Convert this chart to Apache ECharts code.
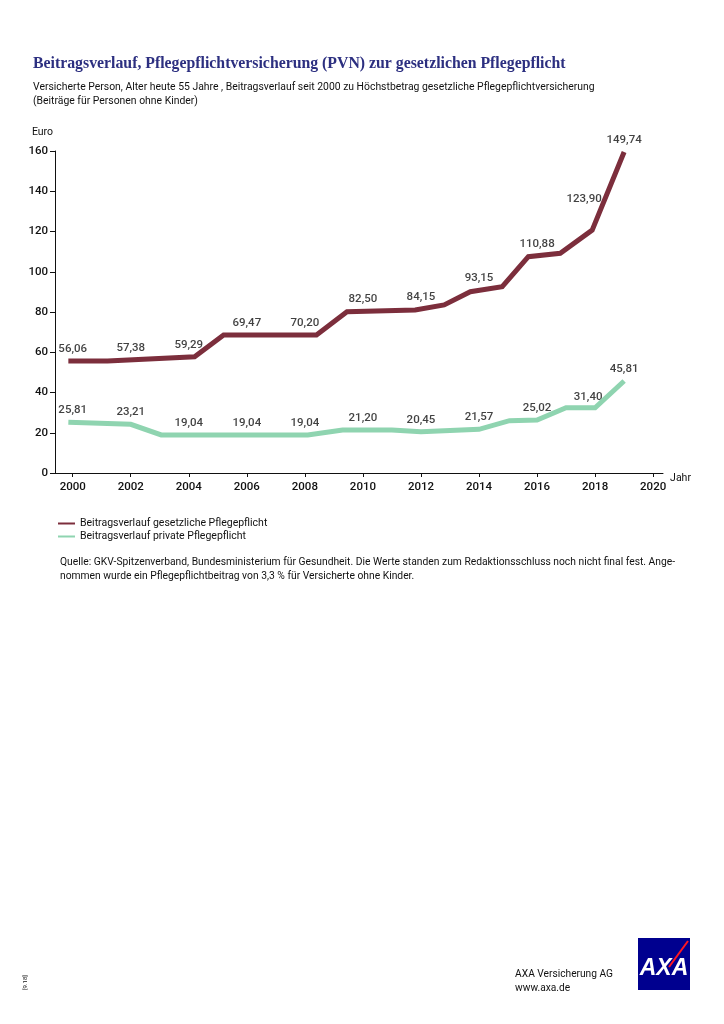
<!DOCTYPE html>
<html>
<head>
<meta charset="utf-8">
<script src="https://cdn.jsdelivr.net/npm/echarts@6/dist/echarts.min.js"></script>
<style>
html,body{margin:0;padding:0;background:#fff;}
#chart{width:724px;height:1024px;}
</style>
</head>
<body>
<div id="chart"></div>
<script>
// ---- data ----
const redName = 'Beitragsverlauf gesetzliche Pflegepflicht';
const greenName = 'Beitragsverlauf private Pflegepflicht';

const redYears  = [1999.85, 2001.2, 2004.2, 2005.2, 2008.4, 2009.45, 2011.8, 2012.8, 2013.7, 2014.8, 2015.7, 2016.8, 2017.9, 2019.0];
const redValues = [55.7, 55.7, 57.8, 68.6, 68.6, 80.1, 81.0, 83.5, 90.1, 92.6, 107.5, 109.2, 120.7, 159.5];

const greenYears  = [1999.85, 2002.0, 2003.05, 2008.1, 2009.3, 2011.0, 2012.0, 2014.0, 2015.05, 2016.0, 2017.0, 2018.0, 2019.0];
const greenValues = [25.2, 24.2, 18.9, 18.9, 21.4, 21.4, 20.5, 21.7, 26.0, 26.3, 32.4, 32.4, 45.7];

const redLabelYears  = [2000, 2002, 2004, 2006, 2008, 2010, 2012, 2014, 2016, 2018, 2019];
const redLabelTexts  = ['56,06','57,38','59,29','69,47','70,20','82,50','84,15','93,15','110,88','123,90','149,74'];
const greenLabelYears = [2000, 2002, 2004, 2006, 2008, 2010, 2012, 2014, 2016, 2018, 2019];
const greenLabelTexts = ['25,81','23,21','19,04','19,04','19,04','21,20','20,45','21,57','25,02','31,40','45,81'];

const xTickYears = [2000, 2002, 2004, 2006, 2008, 2010, 2012, 2014, 2016, 2018, 2020];

const titleText = 'Beitragsverlauf, Pflegepflichtversicherung (PVN) zur gesetzlichen Pflegepflicht';
const subtitleText = 'Versicherte Person, Alter heute 55 Jahre , Beitragsverlauf seit 2000 zu Höchstbetrag gesetzliche Pflegepflichtversicherung\n(Beiträge für Personen ohne Kinder)';
const sourceText = 'Quelle: GKV-Spitzenverband, Bundesministerium für Gesundheit. Die Werte standen zum Redaktionsschluss noch nicht final fest. Ange-\nnommen wurde ein Pflegepflichtbeitrag von 3,3 % für Versicherte ohne Kinder.';

// ---- styling ----
const F = "Roboto, sans-serif";
const RED = '#7c2e3c';
const GREEN = '#8fd4b0';
const INK = '#111111';
const NAVY = '#2c2f80';

function interp(xs, ys, x) {
  if (x <= xs[0]) return ys[0];
  for (let i = 1; i < xs.length; i++) {
    if (x <= xs[i]) {
      const t = (x - xs[i-1]) / (xs[i] - xs[i-1]);
      return ys[i-1] + t * (ys[i] - ys[i-1]);
    }
  }
  return ys[ys.length - 1];
}

// per-label nudges (pixels) for labels the reference sets aside from the line
const redOffsets = {2018: [-11, -12]};
const greenOffsets = {2018: [-7, 1]};

function labelData(years, texts, lx, ly, offsets) {
  return years.map((y, i) => {
    const item = { value: [y, interp(lx, ly, y)], name: texts[i] };
    if (offsets[y]) item.label = { offset: offsets[y] };
    return item;
  });
}

const chart = echarts.init(document.getElementById('chart'), null, {renderer: 'canvas'});

const labelStyle = {
  show: true, position: 'top', distance: 6,
  formatter: p => p.name, fontFamily: F, fontSize: 11.5, fontWeight: 500, color: INK
};

const option = {
  animation: false,
  backgroundColor: '#fff',
  textStyle: { fontFamily: F },
  grid: { left: 55, right: 61, top: 151, bottom: 551 },
  legend: {
    data: [redName, greenName],
    orient: 'vertical', left: 58, top: 518,
    itemWidth: 17, itemHeight: 2, itemGap: 2,
    icon: 'rect', padding: 0,
    textStyle: { fontFamily: F, fontSize: 10.5, color: INK }
  },
  xAxis: {
    type: 'value', min: 1999.39, max: 2020.34,
    name: 'Jahr', nameLocation: 'end', nameGap: 6,
    nameTextStyle: { fontFamily: F, fontSize: 10.5, color: INK, verticalAlign: 'top' },
    axisLine: { show: true, lineStyle: { color: INK, width: 1 } },
    axisTick: { show: true, customValues: xTickYears, length: 4, lineStyle: { color: INK } },
    axisLabel: { customValues: xTickYears, formatter: v => String(v), margin: 8,
      fontFamily: F, fontSize: 11.5, fontWeight: 500, color: INK },
    splitLine: { show: false }
  },
  yAxis: {
    type: 'value', min: 0, max: 160, interval: 20,
    name: 'Euro', nameLocation: 'end', nameGap: 13,
    nameTextStyle: { fontFamily: F, fontSize: 10.5, color: INK, align: 'right', padding: [0, 2, 0, 0] },
    axisLine: { show: true, lineStyle: { color: INK, width: 1 } },
    axisTick: { show: true, length: 5, lineStyle: { color: INK } },
    axisLabel: { margin: 7, fontFamily: F, fontSize: 11.5, fontWeight: 500, color: INK },
    splitLine: { show: false }
  },
  series: [
    {
      name: redName, type: 'line', showSymbol: false, symbol: 'none',
      data: redYears.map((y, i) => [y, redValues[i]]),
      itemStyle: { color: RED },
      lineStyle: { color: RED, width: 5, join: 'miter' }
    },
    {
      name: greenName, type: 'line', showSymbol: false, symbol: 'none',
      data: greenYears.map((y, i) => [y, greenValues[i]]),
      itemStyle: { color: GREEN },
      lineStyle: { color: GREEN, width: 5, join: 'miter' }
    },
    {
      name: 'redLabels', type: 'scatter', symbolSize: 0, silent: true,
      data: labelData(redLabelYears, redLabelTexts, redYears, redValues, redOffsets),
      label: labelStyle
    },
    {
      name: 'greenLabels', type: 'scatter', symbolSize: 0, silent: true,
      data: labelData(greenLabelYears, greenLabelTexts, greenYears, greenValues, greenOffsets),
      label: labelStyle
    }
  ],
  graphic: [
    { type: 'text', left: 33, top: 56,
      style: { text: titleText, font: "bold 15.8px 'Liberation Serif', serif", fill: NAVY } },
    { type: 'text', left: 33, top: 80,
      style: { text: subtitleText, fontFamily: F, fontSize: 10.4, lineHeight: 14, fill: INK } },
    { type: 'text', left: 60, top: 555,
      style: { text: sourceText, fontFamily: F, fontSize: 10.3, lineHeight: 14, fill: INK } },
    { type: 'text', right: 111, top: 967,
      style: { text: 'AXA Versicherung AG\nwww.axa.de', fontFamily: F, fontSize: 10.2, lineHeight: 14, fill: INK, align: 'right' } },
    { type: 'text', x: 22, y: 990, rotation: Math.PI / 2,
      style: { text: '[9.18]', fontFamily: F, fontSize: 6, fill: INK } },
    { type: 'group', left: 638, top: 938, children: [
      { type: 'rect', shape: { x: 0, y: 0, width: 52, height: 52 }, style: { fill: '#00008f' } },
      { type: 'text', x: 26, y: 31,
        style: { text: 'AXA', font: "italic bold 23px 'Liberation Sans', sans-serif", fill: '#fff', align: 'center', verticalAlign: 'middle' } },
      { type: 'line', shape: { x1: 50, y1: 3, x2: 31, y2: 29 }, style: { stroke: '#ff1721', lineWidth: 2 } }
    ]}
  ]
};

chart.setOption(option);
</script>
</body>
</html>
